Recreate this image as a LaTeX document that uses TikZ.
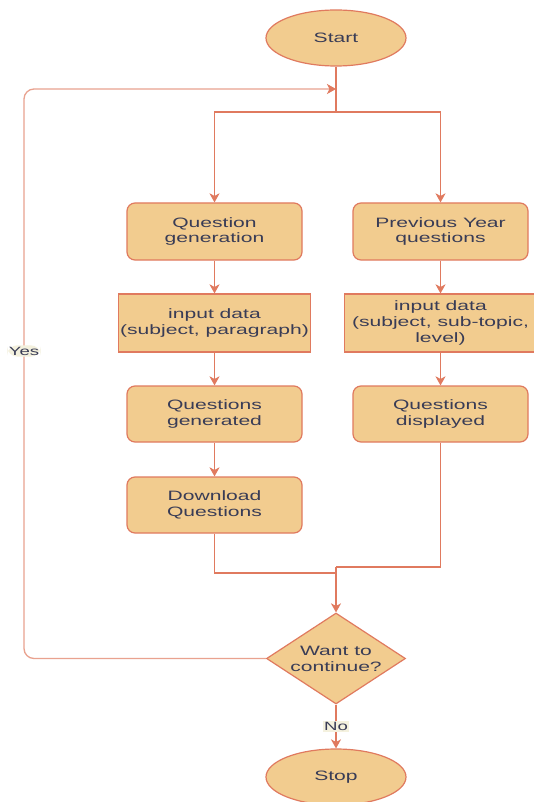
\documentclass[tikz,border=0pt]{standalone}
\usepackage{fontspec}
\setmainfont{Liberation Sans}[FakeStretch=1.55]
\usetikzlibrary{shapes.geometric,arrows.meta}
\definecolor{fillc}{HTML}{F2CC8F}
\definecolor{linec}{HTML}{E07A5F}
\definecolor{textc}{HTML}{393C56}
\definecolor{labbg}{HTML}{F4F1DE}
\begin{document}
\begin{tikzpicture}[x=1pt,y=-1pt,
  base/.style={draw=linec,fill=fillc,line width=1.2pt,text=textc,align=center,inner sep=0pt,
    font=\fontsize{13.6}{15.8}\selectfont},
  term/.style={base,ellipse,minimum width=140pt,minimum height=56pt},
  procbox/.style={base,rounded corners=8pt,minimum width=175pt,minimum height=57pt},
  databox/.style={base,rectangle,minimum width=192pt,minimum height=58pt},
  decision/.style={base,diamond,minimum width=139pt,minimum height=91pt},
  txt/.style={text=textc,align=center,inner sep=0pt,font=\fontsize{13.6}{15.8}\selectfont},
  conn/.style={draw=linec,line width=1.3pt},
  arr/.style={conn,-{Stealth[length=9pt,width=10pt,inset=2.5pt]}},
  loopconn/.style={draw=linec!70!white,line width=1.3pt,-{Stealth[length=9pt,width=10pt,inset=2.5pt,color=linec]}},
  lab/.style={fill=labbg,text=textc,inner sep=1.5pt,font=\fontsize{12}{13}\selectfont}
]
\useasboundingbox (0,0) rectangle (533,802);
\fill[white] (0,0) rectangle (533,802);

\node[term] (start) at (336,38) {Start};
\node[procbox] (qg) at (214.5,231.5) {Question\\generation};
\node[procbox] (py) at (440.5,231.5) {Previous Year\\questions};
\node[databox] (in1) at (214.5,323) {input data\\(subject, paragraph)};
\node[databox] (in2) at (440.5,323) {input data\\(subject, sub-topic,\\level)};
\node[procbox,minimum height=56pt] (qgen) at (214.5,414) {Questions\\generated};
\node[procbox,minimum height=56pt] (qdis) at (440.5,414) {Questions\\displayed};
\node[procbox,minimum height=56pt] (dl) at (214.5,505) {Download\\Questions};
\node[decision] (dia) at (336,658.5) {};
\node[txt] (diat) at (dia.center) {Want to\\continue?};
\node[term] (stop) at (336,777) {Stop};

\coordinate (split) at (336,112);
\coordinate (ltop) at (336,89);
\coordinate (ml) at (336,573);
\coordinate (mr) at (336,567);
\coordinate (lb) at (24,658.5);
\coordinate (lt) at (24,89);

\draw[conn] (start.south) -- (split);
\draw[arr] (split) -| (qg.north);
\draw[arr] (split) -| (py.north);
\draw[arr] (qg) -- (in1);
\draw[arr] (in1) -- (qgen);
\draw[arr] (qgen) -- (dl);
\draw[arr] (py) -- (in2);
\draw[arr] (in2) -- (qdis);
\draw[conn] (dl.south) |- (ml);
\draw[conn] (qdis.south) |- (mr);
\draw[arr] (mr) -- (dia.north);
\draw[arr] (dia.south) -- node[lab] (no) {No} (stop.north);
\draw[loopconn,rounded corners=10pt] (dia.west) -- (lb) -- node[lab,pos=0.54] (yes) {Yes} (lt) -- (ltop);
\end{tikzpicture}
\end{document}
